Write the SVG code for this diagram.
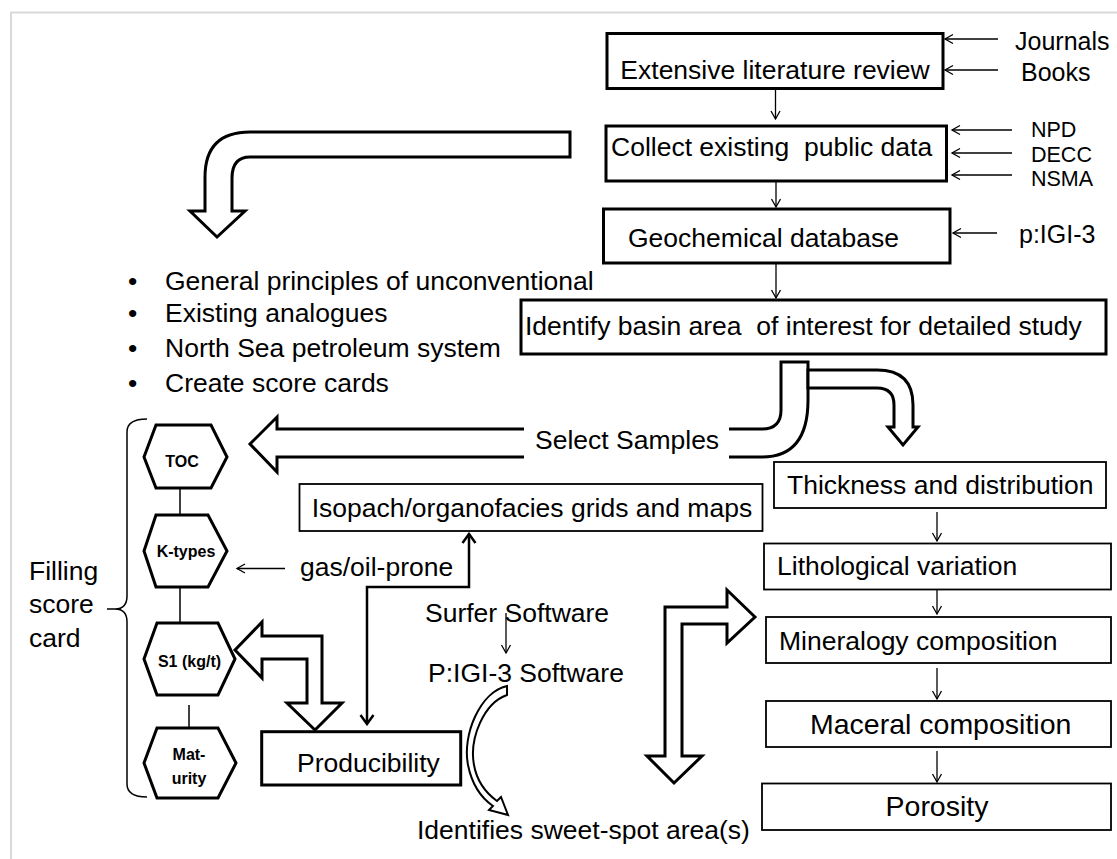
<svg xmlns="http://www.w3.org/2000/svg" width="1117" height="859" viewBox="0 0 1117 859">
<defs>
<style>
.t{font-family:"Liberation Sans",Arial,sans-serif;font-size:26.5px;fill:#000;white-space:pre}
.a{font-size:28.5px}
.s{font-size:21.5px}
.j{font-size:25px}
.hx{font-family:"Liberation Sans",Arial,sans-serif;font-weight:bold;font-size:16px;fill:#000;text-anchor:middle}
.b3{fill:#fff;stroke:#000;stroke-width:3}
.b2{fill:#fff;stroke:#000;stroke-width:1.8}
.ln{fill:none;stroke:#000;stroke-width:1.3;marker-end:url(#ah)}
.pl{fill:none;stroke:#000;stroke-width:1.5}
.blk{fill:#fff;stroke:#000;stroke-width:3;stroke-linejoin:miter}
.hex{fill:#fff;stroke:#000;stroke-width:3;stroke-linejoin:miter}
</style>
<marker id="ah" viewBox="-10 -6 12 12" refX="0" refY="0" markerWidth="12" markerHeight="12" markerUnits="userSpaceOnUse" orient="auto">
<path d="M-8,-4.5 L0,0 L-8,4.5" fill="none" stroke="#000" stroke-width="1.3"/>
</marker>
<marker id="ahb" viewBox="-12 -8 14 16" refX="0" refY="0" markerWidth="14" markerHeight="16" markerUnits="userSpaceOnUse" orient="auto-start-reverse">
<path d="M-9,-6.5 L0,0 L-9,6.5" fill="none" stroke="#000" stroke-width="2.5"/>
</marker>
</defs>
<rect width="1117" height="859" fill="#fff"/>
<path d="M1117,12.5 H11 V859" fill="none" stroke="#d9d9d9" stroke-width="2"/>

<g id="connectors">
<path class="ln" d="M775.5,88 V119"/>
<path class="ln" d="M776,181 V207"/>
<path class="ln" d="M776,263 V298"/>
<path class="ln" d="M998,39 H945"/>
<path class="ln" d="M998,70 H945"/>
<path class="ln" d="M1012,130 H952"/>
<path class="ln" d="M1012,153 H952"/>
<path class="ln" d="M1012,175 H952"/>
<path class="ln" d="M997,233 H953"/>
<path class="ln" d="M937,512 V541"/>
<path class="ln" d="M937,590 V614"/>
<path class="ln" d="M937,668 V699"/>
<path class="ln" d="M937,751 V782"/>
<path class="ln" d="M285,568.5 H237"/>
<path class="ln" d="M506,613 V653"/>
<path d="M367,724 V587 H469 V534" fill="none" stroke="#000" stroke-width="2.5" marker-start="url(#ahb)" marker-end="url(#ahb)"/>
<path class="pl" d="M180,488 V515"/>
<path class="pl" d="M180,587 V623"/>
<path class="pl" d="M189,705 V732"/>
<path class="blk" d="M570,132 H250 Q205,132 205,177 V211 H190 L217,237 L245,211 H232 V178 Q232,157 250,157 H570 Z"/>
<path class="blk" d="M781,362 H808 V400 Q808,457 762,457 H277 V472 L250,444 L277,417 V429 H762 Q781,429 781,410 Z"/>
<path class="blk" d="M808,370 H877 Q913,370 913,405 V427 H918 L903,445 L888,427 H894 V405 Q894,388 877,388 H808 Z"/>
<path class="blk" d="M235,650 L262,622 V636 H322 V703 H342 L315,730 L287,703 H307 V659 H262 V678 Z"/>
<path class="blk" d="M755,617 L727,590 V607 H665 V756 H647 L674,783 L702,756 H682 V624 H727 V643 Z"/>
<path fill="#fff" stroke="#000" stroke-width="2" d="M507,686 C480,692 462,735 468,765 C472,785 480,797 493,806 L489,810 L508,815 L501,797 L497,801 C486,793 477,782 474,765 C469,738 484,703 507,695 Z"/>
</g>

<g id="lit"><rect class="b3" x="607" y="33.5" width="336" height="55"/><text class="t" x="775" y="79" text-anchor="middle">Extensive literature review</text></g>
<g id="journals"><text class="t j" x="1015" y="50">Journals</text></g>
<g id="books"><text class="t j" x="1021" y="81">Books</text></g>
<g id="collect"><rect class="b3" x="606" y="126" width="340.5" height="55"/><text class="t" x="611" y="156">Collect existing  public data</text></g>
<g id="npd"><text class="t s" x="1031" y="137">NPD</text></g>
<g id="decc"><text class="t s" x="1031" y="161.5">DECC</text></g>
<g id="nsma"><text class="t s" x="1031" y="186">NSMA</text></g>
<g id="geochem"><rect class="b3" x="603.5" y="209" width="346.5" height="54"/><text class="t" x="628" y="247">Geochemical database</text></g>
<g id="pigi"><text class="t j" x="1019" y="243">p:IGI-3</text></g>
<g id="identify"><rect class="b3" x="521" y="300" width="585" height="54"/><text class="t" x="525" y="335">Identify basin area  of interest for detailed study</text></g>

<g id="bullets">
<text class="t" x="128" y="290">•</text><text class="t" x="165" y="290">General principles of unconventional</text>
<text class="t" x="128" y="322">•</text><text class="t" x="165" y="322">Existing analogues</text>
<text class="t" x="128" y="357">•</text><text class="t" x="165" y="357">North Sea petroleum system</text>
<text class="t" x="128" y="392">•</text><text class="t" x="165" y="392">Create score cards</text>
</g>

<g id="select"><rect x="524" y="420" width="205" height="45" fill="#fff"/><text class="t" x="535" y="449">Select Samples</text></g>

<g id="toc"><polygon class="hex" points="144,457 156,425 211,425 227,457 211,488 156,488"/><text class="hx" x="182" y="467">TOC</text></g>
<g id="ktypes"><polygon class="hex" points="144,551 156,515 208,515 227,551 208,587 156,587"/><text class="hx" x="186" y="557">K-types</text></g>
<g id="s1"><polygon class="hex" points="144,659 157,623 218,623 235,659 218,695 157,695"/><text class="hx" x="189.5" y="667">S1 (kg/t)</text></g>
<g id="maturity"><polygon class="hex" points="144,763 157,728 218,728 236,763 218,798 157,798"/><text class="hx" x="189" y="760">Mat-</text><text class="hx" x="189" y="784">urity</text></g>

<g id="filling">
<path class="pl" d="M147,419 Q127,419 127,432 V596 Q127,609 115,609 H107 M115,609 Q127,609 127,622 V784 Q127,797 147,797"/>
<text class="t" x="29" y="580">Filling</text>
<text class="t" x="29" y="613">score</text>
<text class="t" x="29" y="647">card</text>
</g>

<g id="gasoil"><text class="t" x="300" y="576">gas/oil-prone</text></g>
<g id="isopach"><rect class="b2" x="299.5" y="484" width="463" height="47"/><text class="t" x="311.7" y="517">Isopach/organofacies grids and maps</text></g>
<g id="producibility"><rect class="b3" x="261.7" y="731.7" width="199" height="53.3"/><text class="t" x="297" y="772">Producibility</text></g>
<g id="surfer"><text class="t" x="425" y="622">Surfer Software</text></g>
<g id="pigisoft"><text class="t" x="428" y="682">P:IGI-3 Software</text></g>
<g id="sweet"><text class="t" x="417" y="839">Identifies sweet-spot area(s)</text></g>

<g id="thickness"><rect class="b2" x="774" y="462" width="332" height="46"/><text class="t" x="787" y="494">Thickness and distribution</text></g>
<g id="litho"><rect class="b2" x="764" y="543.5" width="347" height="46"/><text class="t" x="777" y="575">Lithological variation</text></g>
<g id="mineral"><rect class="b2" x="766" y="617" width="345" height="46"/><text class="t" x="779" y="650">Mineralogy composition</text></g>
<g id="maceral"><rect class="b2" x="766" y="701" width="345" height="46"/><text class="t a" x="810" y="734">Maceral composition</text></g>
<g id="porosity"><rect class="b2" x="762" y="783.5" width="349" height="46.5"/><text class="t a" x="937" y="816" text-anchor="middle">Porosity</text></g>
</svg>
